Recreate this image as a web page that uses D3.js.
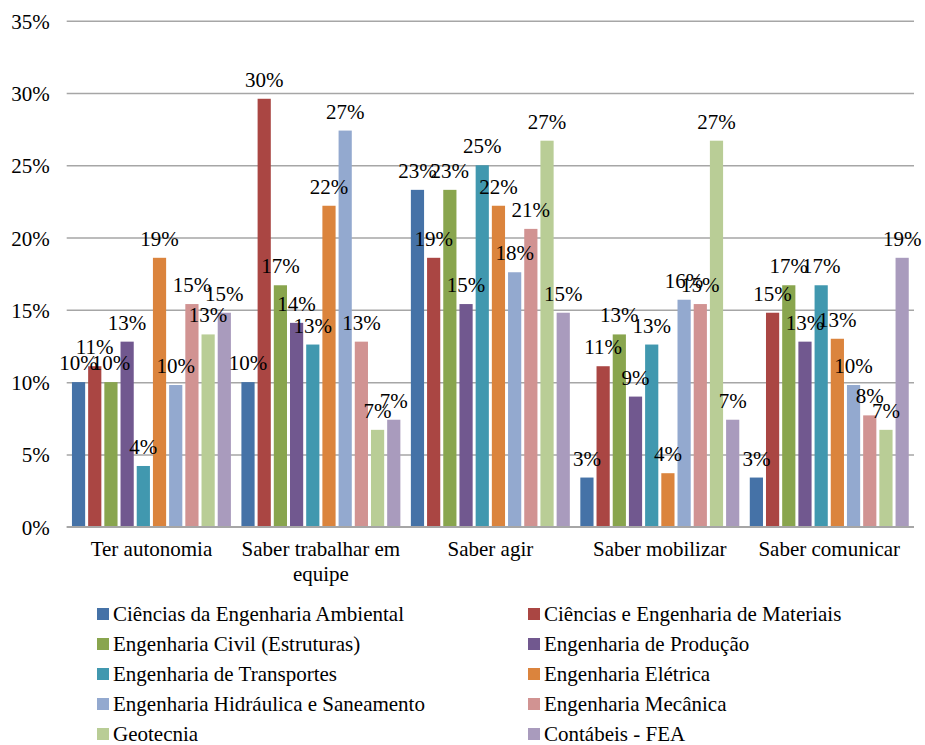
<!DOCTYPE html>
<html>
<head>
<meta charset="utf-8">
<script src="https://cdn.jsdelivr.net/npm/d3@7/dist/d3.min.js"></script>
<style>
  html, body { margin: 0; padding: 0; background: #ffffff; }
  svg { display: block; }
</style>
</head>
<body>
<svg id="chart" width="925" height="745"></svg>
<script>
// Competências (categorias do eixo X)
const categories = ["Ter autonomia", "Saber trabalhar em equipe", "Saber agir", "Saber mobilizar", "Saber comunicar"];

// Cursos (séries)
const seriesNames = [
  "Ciências da Engenharia Ambiental",
  "Ciências e Engenharia de Materiais",
  "Engenharia Civil (Estruturas)",
  "Engenharia de Produção",
  "Engenharia de Transportes",
  "Engenharia Elétrica",
  "Engenharia Hidráulica e Saneamento",
  "Engenharia Mecânica",
  "Geotecnia",
  "Contábeis - FEA"
];

// Percentuais por curso, na ordem das categorias
const ambiental   = [10.0, 10.0, 23.3,  3.4,  3.4];
const materiais   = [11.1, 29.6, 18.6, 11.1, 14.8];
const civil       = [10.0, 16.7, 23.3, 13.3, 16.7];
const producao    = [12.8, 14.1, 15.4,  9.0, 12.8];
const transportes = [ 4.2, 12.6, 25.0, 12.6, 16.7];
const eletrica    = [18.6, 22.2, 22.2,  3.7, 13.0];
const hidraulica  = [ 9.8, 27.4, 17.6, 15.7,  9.8];
const mecanica    = [15.4, 12.8, 20.6, 15.4,  7.7];
const geotecnia   = [13.3,  6.7, 26.7, 26.7,  6.7];
const contabeis   = [14.8,  7.4, 14.8,  7.4, 18.6];

const seriesValues = [ambiental, materiais, civil, producao, transportes,
                      eletrica, hidraulica, mecanica, geotecnia, contabeis];

const colors = ["#4572A7", "#AA4643", "#89A54E", "#71588F", "#4198AF",
                "#DB843D", "#93A9CF", "#D19392", "#B9CD96", "#A99BBD"];

// Marcas do eixo Y
const yTicks = [0, 5, 10, 15, 20, 25, 30, 35];

const FONT = "Liberation Serif";
const FS = 21;

const svg = d3.select("#chart");
svg.append("rect").attr("width", 925).attr("height", 745).attr("fill", "#fff");

const plot = { left: 66.7, right: 914, top: 20.7, bottom: 526.7 };

const y = d3.scaleLinear().domain([0, 35]).range([plot.bottom, plot.top]);
const x0 = d3.scaleBand().domain(categories).range([plot.left, plot.right]).padding(0);
const clusterPad = 3.75;
const x1 = d3.scaleBand().domain(d3.range(seriesNames.length))
  .range([clusterPad, x0.bandwidth() - clusterPad]).padding(0);
const barGap = 3;

// Linhas de grade e rótulos do eixo Y
const yAxis = d3.axisLeft(y).tickValues(yTicks).tickFormat(d => d + "%")
  .tickSize(-(plot.right - plot.left)).tickPadding(17);
const gy = svg.append("g").attr("transform", `translate(${plot.left},0)`).call(yAxis);
gy.attr("font-family", null).attr("font-size", null);
gy.select(".domain").remove();
gy.selectAll(".tick line").attr("stroke", "#a6a6a6").attr("stroke-width", 1.5);
gy.selectAll(".tick text").attr("fill", "#000").attr("dy", "0.36em")
  .style("font-family", FONT).style("font-size", FS + "px");

// Barras
const groups = svg.append("g").selectAll("g")
  .data(categories)
  .join("g")
  .attr("transform", d => `translate(${x0(d)},0)`);

groups.each(function(cat, ci) {
  const g = d3.select(this);
  const rows = seriesValues.map((vals, si) => ({ si, v: vals[ci] }));
  g.selectAll("rect")
    .data(rows)
    .join("rect")
    .attr("x", d => x1(d.si) + barGap / 2)
    .attr("width", x1.bandwidth() - barGap)
    .attr("y", d => y(d.v))
    .attr("height", d => y(0) - y(d.v))
    .attr("fill", d => colors[d.si]);
});

// Eixo X (linha base)
svg.append("line")
  .attr("x1", plot.left).attr("x2", plot.right)
  .attr("y1", y(0)).attr("y2", y(0))
  .attr("stroke", "#a6a6a6").attr("stroke-width", 1.5);

// Rótulos de dados
groups.each(function(cat, ci) {
  const g = d3.select(this);
  const rows = seriesValues.map((vals, si) => ({ si, v: vals[ci] }));
  g.selectAll("text.val")
    .data(rows)
    .join("text")
    .attr("class", "val")
    .attr("x", d => x1(d.si) + x1.bandwidth() / 2)
    .attr("y", d => y(d.v) - 12)
    .attr("text-anchor", "middle")
    .style("font-family", FONT).style("font-size", FS + "px")
    .text(d => Math.round(d.v) + "%");
});

// Rótulos das categorias com quebra de linha
const xAxis = d3.axisBottom(x0).tickSize(0).tickPadding(0);
const gx = svg.append("g").attr("transform", `translate(0,${plot.bottom})`).call(xAxis);
gx.attr("font-family", null).attr("font-size", null);
gx.select(".domain").remove();
gx.selectAll(".tick text")
  .attr("fill", "#000")
  .style("font-family", FONT).style("font-size", FS + "px")
  .attr("y", 29).attr("dy", 0)
  .each(function(d) {
    const t = d3.select(this);
    const words = d.split(" ");
    t.text(null);
    let line = [];
    let lineNo = 0;
    let tspan = t.append("tspan").attr("x", 0).attr("y", 29);
    words.forEach(w => {
      line.push(w);
      tspan.text(line.join(" "));
      if (tspan.node().getComputedTextLength() > x0.bandwidth() - 6 && line.length > 1) {
        line.pop();
        tspan.text(line.join(" "));
        line = [w];
        lineNo++;
        tspan = t.append("tspan").attr("x", 0).attr("y", 29 + lineNo * 25).text(w);
      }
    });
  });

// Legenda em duas colunas
const legend = svg.append("g");
const legCols = [97, 528];
const legRow0 = 614, legRowStep = 30;
seriesNames.forEach((name, i) => {
  const col = i % 2, row = Math.floor(i / 2);
  const lx = legCols[col], ly = legRow0 + row * legRowStep;
  legend.append("rect")
    .attr("x", lx).attr("y", ly - 6).attr("width", 12).attr("height", 12)
    .attr("fill", colors[i]);
  legend.append("text")
    .attr("x", lx + 16).attr("y", ly + 7)
    .style("font-family", FONT).style("font-size", FS + "px")
    .text(name);
});
</script>
</body>
</html>
